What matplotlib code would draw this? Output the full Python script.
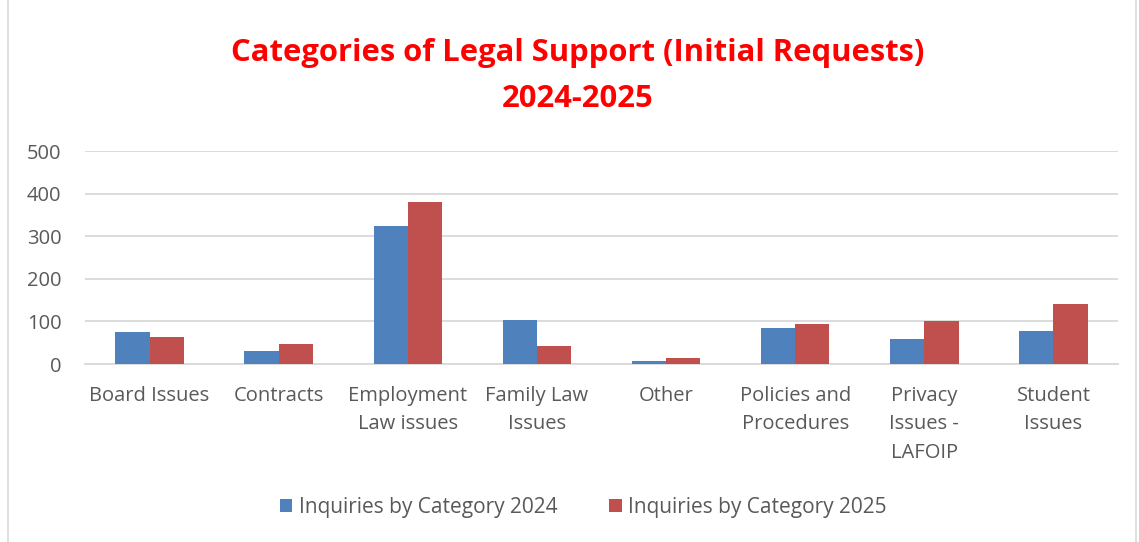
import matplotlib.pyplot as plt
import numpy as np
from matplotlib.patches import Rectangle

categories = ['Board Issues', 'Contracts', 'Employment\nLaw issues', 'Family Law\nIssues',
              'Other', 'Policies and\nProcedures', 'Privacy\nIssues -\nLAFOIP', 'Student\nIssues']
inq_2024 = [76, 31, 323, 104, 7, 85, 59, 78]
inq_2025 = [63, 46, 380, 42, 13, 93, 100, 142]
yticks = [0, 100, 200, 300, 400, 500]

plt.rcParams['font.family'] = ['Open Sans', 'DejaVu Sans']

fig = plt.figure(figsize=(11.39, 5.42), dpi=100)
ax = fig.add_axes([0.0746, 0.3284, 0.907, 0.393])

x = np.arange(len(categories))
w = 0.265
ax.bar(x - w/2, inq_2024, w, color='#4F81BD', label='Inquiries by Category 2024', zorder=3)
ax.bar(x + w/2, inq_2025, w, color='#C0504D', label='Inquiries by Category 2025', zorder=3)

ax.set_xlim(-0.5, len(categories) - 0.5)
ax.set_ylim(0, 500)
ax.set_yticks(yticks)
ax.grid(axis='y', color='#d9d9d9', linewidth=1.3, zorder=0)
for s in ['top', 'right', 'left']:
    ax.spines[s].set_visible(False)
ax.spines['bottom'].set_color('#d9d9d9')
ax.spines['bottom'].set_linewidth(1.3)
ax.tick_params(length=0, colors='#595959', labelsize=14.5)
ax.tick_params(axis='y', pad=17)
ax.tick_params(axis='x', pad=16)
ax.set_xticks(x)
ax.set_xticklabels(categories, linespacing=1.55, va='top')

fig.text(0.507, 0.86, 'Categories of Legal Support (Initial Requests)\n2024-2025',
         ha='center', va='center', color='#FF0000', fontsize=22.3, fontweight='bold',
         linespacing=1.7)

fig.legend(loc='center', bbox_to_anchor=(0.512, 0.064), ncol=2, frameon=False,
           fontsize=15, labelcolor='#595959', handlelength=0.6, handleheight=0.6,
           handletextpad=0.3, columnspacing=2.5)

fig.patches.append(Rectangle((0.007, -0.01), 0.99, 1.02, transform=fig.transFigure,
                             fill=False, edgecolor='#d9d9d9', linewidth=1.2))

fig.savefig('out.png', dpi=100)
